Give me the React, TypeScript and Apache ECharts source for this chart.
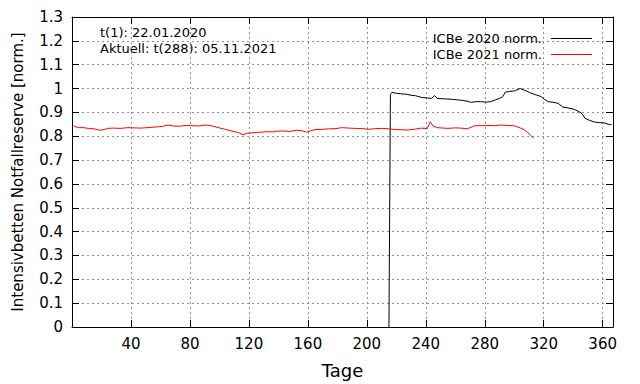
import React, { useEffect, useRef } from "react";
import * as echarts from "echarts";

const xTicks = [40, 80, 120, 160, 200, 240, 280, 320, 360];
const yTickLabels = ["0", "0.1", "0.2", "0.3", "0.4", "0.5", "0.6", "0.7", "0.8", "0.9", "1", "1.1", "1.2", "1.3"];

const seriesNames = ["ICBe 2020 norm.", "ICBe 2021 norm."];
const seriesColors = ["#000000", "#ff0000"];
const annotations = ["t(1): 22.01.2020", "Aktuell: t(288): 05.11.2021"];

const days2021 = [1, 4, 8, 12, 15, 19, 22, 24, 28, 33, 38, 42, 47, 51, 55, 58, 62, 65, 69, 73, 78, 82, 86, 91, 95, 100, 104, 109, 113, 116, 119, 122, 126, 132, 136, 139, 143, 148, 152, 156, 159, 162, 165, 170, 174, 179, 183, 188, 192, 197, 201, 206, 210, 215, 219, 224, 228, 233, 237, 241, 243, 245, 248, 252, 255, 260, 264, 268, 271, 273, 278, 282, 287, 291, 295, 300, 304, 307, 309, 311, 313];
const values2021 = [0.844, 0.836, 0.836, 0.832, 0.831, 0.825, 0.828, 0.833, 0.834, 0.833, 0.836, 0.835, 0.834, 0.836, 0.838, 0.839, 0.842, 0.847, 0.843, 0.842, 0.845, 0.844, 0.843, 0.847, 0.843, 0.835, 0.829, 0.821, 0.815, 0.806, 0.813, 0.814, 0.816, 0.819, 0.818, 0.821, 0.822, 0.82, 0.825, 0.823, 0.817, 0.823, 0.828, 0.829, 0.831, 0.832, 0.836, 0.834, 0.833, 0.832, 0.829, 0.832, 0.833, 0.831, 0.828, 0.827, 0.826, 0.83, 0.834, 0.832, 0.861, 0.842, 0.836, 0.834, 0.833, 0.835, 0.834, 0.831, 0.838, 0.844, 0.844, 0.845, 0.844, 0.847, 0.845, 0.844, 0.835, 0.826, 0.816, 0.805, 0.792];

const days2020 = [215, 216, 217, 220, 223, 227, 230, 233, 237, 241, 244, 246, 248, 252, 255, 259, 264, 268, 271, 274, 277, 281, 284, 287, 289, 292, 294, 297, 300, 302, 304, 306, 308, 311, 314, 318, 321, 323, 327, 330, 333, 337, 341, 344, 346, 348, 351, 354, 358, 361, 364, 366];
const values2020 = [0, 0.975, 0.984, 0.98, 0.978, 0.976, 0.972, 0.97, 0.963, 0.96, 0.959, 0.97, 0.958, 0.957, 0.956, 0.954, 0.951, 0.947, 0.942, 0.945, 0.945, 0.943, 0.945, 0.952, 0.956, 0.965, 0.985, 0.988, 0.99, 0.995, 1.0, 0.995, 0.99, 0.982, 0.975, 0.967, 0.953, 0.945, 0.942, 0.937, 0.922, 0.918, 0.912, 0.903, 0.895, 0.875, 0.867, 0.86, 0.857, 0.856, 0.85, 0.848];

const FONT = "DejaVu Sans";

export default function App() {
  const ref = useRef<HTMLDivElement>(null);
  useEffect(() => {
    if (!ref.current) return;
    const chart = echarts.init(ref.current, null, { renderer: "svg" });
    const gridLine = { show: true, lineStyle: { color: "#909090", type: [2, 3] as any, width: 1 } };
    const commonX = { type: "value" as const, min: 0, max: 367, interval: 40 };
    const commonY = { type: "value" as const, min: 0, max: 1.3, interval: 0.1 };
    chart.setOption({
      animation: false,
      backgroundColor: "#ffffff",
      textStyle: { fontFamily: FONT },
      grid: { left: 72, right: 27, top: 17, bottom: 55, containLabel: false },
      legend: {
        orient: "vertical",
        right: 43,
        top: 26,
        align: "right",
        icon: "rect",
        itemWidth: 41,
        itemHeight: 1,
        itemGap: 1,
        data: seriesNames.map((n, i) => ({ name: n, itemStyle: { color: seriesColors[i] } })),
        textStyle: { fontFamily: FONT, fontSize: 13, color: "#000", padding: [0, 4, 0, 0], lineHeight: 15 },
      },
      graphic: annotations.map((t, i) => ({
        type: "text",
        left: 100,
        top: 26 + i * 16,
        style: { text: t, font: `13px '${FONT}'`, fill: "#000" },
      })),
      xAxis: [
        {
          ...commonX,
          position: "bottom",
          name: "Tage",
          nameLocation: "middle",
          nameGap: 34,
          nameTextStyle: { fontFamily: FONT, fontSize: 18, color: "#000" },
          axisLine: { show: true, onZero: false, lineStyle: { color: "#000", width: 1 } },
          axisTick: { show: true, inside: true, length: 7, lineStyle: { color: "#000" } },
          axisLabel: {
            margin: 9,
            fontFamily: FONT,
            fontSize: 15,
            color: "#000",
            showMinLabel: false,
            showMaxLabel: false,
            formatter: (v: number) => (xTicks.includes(v) ? String(v) : ""),
          },
          splitLine: gridLine,
        },
        {
          ...commonX,
          position: "top",
          axisLine: { show: true, onZero: false, lineStyle: { color: "#000", width: 1 } },
          axisTick: { show: true, inside: true, length: 7, lineStyle: { color: "#000" } },
          axisLabel: { show: false },
          splitLine: { show: false },
        },
      ],
      yAxis: [
        {
          ...commonY,
          position: "left",
          name: "Intensivbetten Notfallreserve [norm.]",
          nameLocation: "middle",
          nameGap: 47,
          nameTextStyle: { fontFamily: FONT, fontSize: 15, color: "#000" },
          axisLine: { show: true, onZero: false, lineStyle: { color: "#000", width: 1 } },
          axisTick: { show: true, inside: true, length: 7, lineStyle: { color: "#000" } },
          axisLabel: {
            margin: 9,
            fontFamily: FONT,
            fontSize: 15,
            color: "#000",
            formatter: (v: number) => yTickLabels[Math.round(v * 10)] ?? "",
          },
          splitLine: gridLine,
        },
        {
          ...commonY,
          position: "right",
          axisLine: { show: true, onZero: false, lineStyle: { color: "#000", width: 1 } },
          axisTick: { show: true, inside: true, length: 7, lineStyle: { color: "#000" } },
          axisLabel: { show: false },
          splitLine: { show: false },
        },
      ],
      series: [
        {
          name: seriesNames[0],
          type: "line",
          symbol: "none",
          color: seriesColors[0],
          lineStyle: { color: seriesColors[0], width: 1 },
          data: days2020.map((d, i) => [d, values2020[i]]),
        },
        {
          name: seriesNames[1],
          type: "line",
          symbol: "none",
          color: seriesColors[1],
          lineStyle: { color: seriesColors[1], width: 1 },
          data: days2021.map((d, i) => [d, values2021[i]]),
        },
      ],
    });
    return () => chart.dispose();
  }, []);
  return <div ref={ref} style={{ position: "fixed", left: 0, top: 0, width: 640, height: 384 }} />;
}
